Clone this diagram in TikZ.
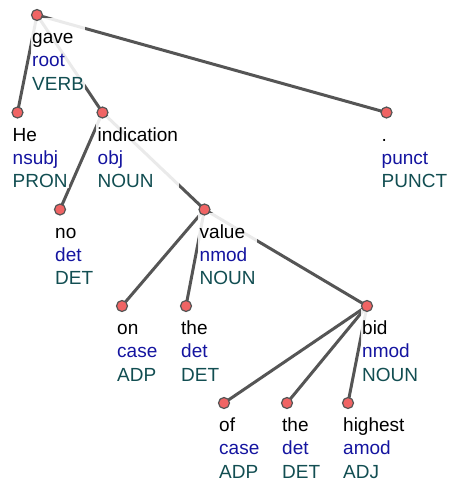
\documentclass[tikz,border=0pt]{standalone}
\usepackage{fontspec}
\setmainfont{Liberation Sans}
\definecolor{edgegray}{RGB}{85,85,85}
\definecolor{dotred}{RGB}{240,100,100}
\definecolor{relblue}{RGB}{20,20,160}
\definecolor{posteal}{RGB}{18,78,82}
\newcommand\tokfont{\fontsize{19}{23.3}\selectfont}
% label block under a token: word, relation, part of speech
\newcommand\depword[4]{%
  \node[toklabel] (#1-label) at ([xshift=-6.5pt,yshift=-3pt]#1)
    {\rule{0pt}{25.3pt}#2\\\textcolor{relblue}{#3}\\\textcolor{posteal}{#4}};}
\tikzset{
  edge/.style={draw=edgegray, line width=3pt},
  toklabel/.style={anchor=north west, align=left, inner xsep=1.5pt, inner ysep=0pt,
    fill=white, fill opacity=0.88, text opacity=1, font=\tokfont},
  tokdot/.style={circle, fill=dotred, draw=edgegray, line width=1.2pt,
    minimum size=11pt, inner sep=0pt},
}
\begin{document}
\begin{tikzpicture}[x=1pt, y=-1pt]
\useasboundingbox (0,0) rectangle (449,479);
% token positions
\coordinate (gave) at (37,15);
\coordinate (he) at (17.5,112.5);
\coordinate (indication) at (102.5,112.5);
\coordinate (punct) at (386.5,112.5);
\coordinate (no) at (60,209.5);
\coordinate (value) at (204.5,209.5);
\coordinate (on) at (122,306);
\coordinate (the1) at (186,306);
\coordinate (bid) at (367,306);
\coordinate (of) at (224,403);
\coordinate (the2) at (287,403);
\coordinate (highest) at (348,403);
% dependency arcs
\draw[edge] (gave) -- (he);
\draw[edge] (gave) -- (indication);
\draw[edge] (gave) -- (punct);
\draw[edge] (indication) -- (no);
\draw[edge] (indication) -- (value);
\draw[edge] (value) -- (on);
\draw[edge] (value) -- (the1);
\draw[edge] (value) -- (bid);
\draw[edge] (bid) -- (of);
\draw[edge] (bid) -- (the2);
\draw[edge] (bid) -- (highest);
% labels
\depword{gave}{gave}{root}{VERB}
\depword{he}{He}{nsubj}{PRON}
\depword{indication}{indication}{obj}{NOUN}
\depword{punct}{.}{punct}{PUNCT}
\depword{no}{no}{det}{DET}
\depword{value}{value}{nmod}{NOUN}
\depword{on}{on}{case}{ADP}
\depword{the1}{the}{det}{DET}
\depword{bid}{bid}{nmod}{NOUN}
\depword{of}{of}{case}{ADP}
\depword{the2}{the}{det}{DET}
\depword{highest}{highest}{amod}{ADJ}
% token dots
\foreach \t in {gave,he,indication,punct,no,value,on,the1,bid,of,the2,highest}
  \node[tokdot] (\t-dot) at (\t) {};
\end{tikzpicture}
\end{document}
